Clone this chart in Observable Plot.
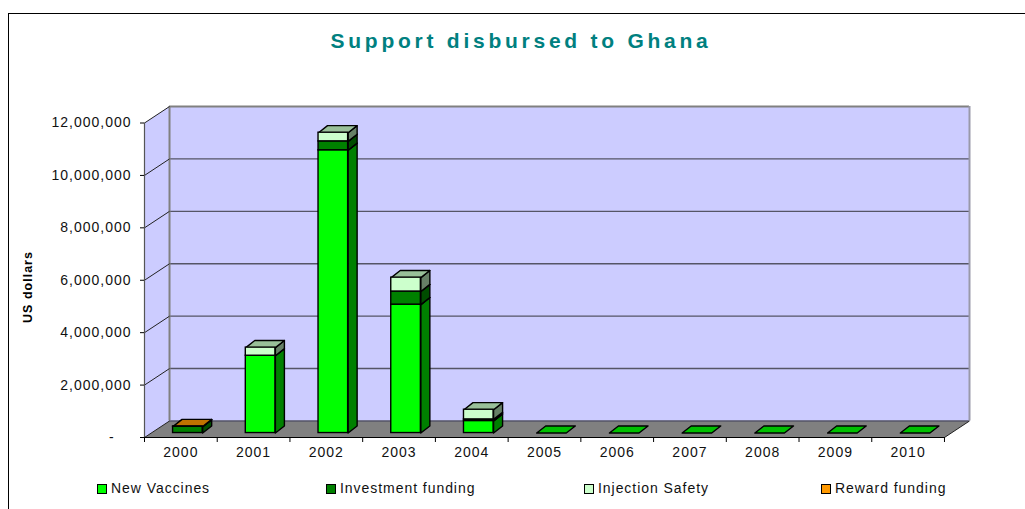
<!DOCTYPE html>
<html><head><meta charset="utf-8">
<script src="https://cdn.jsdelivr.net/npm/d3@7"></script>
<script src="https://cdn.jsdelivr.net/npm/@observablehq/plot@0.6"></script>
<style>
html,body{margin:0;padding:0;background:#fff;width:1025px;height:509px;overflow:hidden;font-family:"Liberation Sans",Arial,sans-serif}
#frame{position:absolute;left:8px;top:13px;width:1100px;height:520px;border:1px solid #000}
#title{position:absolute;left:0;top:29px;width:1042px;text-align:center;font-size:21px;line-height:24px;font-weight:bold;letter-spacing:3.75px;color:#008080;white-space:nowrap}
#chart{position:absolute;left:0;top:0}
#chart svg text{letter-spacing:1px}
.lg{position:absolute;top:480px;font-size:14px;letter-spacing:0.95px;color:#111;white-space:nowrap}
.lg i{display:inline-block;width:8px;height:8px;border:1px solid #000;margin-right:4px;position:relative;top:1px}
</style></head><body>
<div id="frame"></div>
<div id="chart"></div>
<div id="title">Support disbursed to Ghana</div>
<div id="legend"></div>
<script>
const years = [2000,2001,2002,2003,2004,2005,2006,2007,2008,2009,2010];
const newVaccines = [0,2950000,10790000,4900000,460000,0,0,0,0,0,0];
const investment  = [240000,0,340000,500000,60000,0,0,0,0,0,0];
const injection   = [0,310000,330000,530000,370000,0,0,0,0,0,0];
const reward      = [10000,0,0,0,0,0,0,0,0,0,0];
const yTicks = [0,2000000,4000000,6000000,8000000,10000000,12000000];
const seriesNames = ["New Vaccines","Investment funding","Injection Safety","Reward funding"];
const seriesValues = [newVaccines,investment,injection,reward];
const fronts = ["#00ff00","#008000","#ccffcc","#ff9900"];
const sides  = ["#008000","#004d00","#668066","#804d00"];
const tops   = ["#00c000","#006000","#99c099","#c07300"];
const legendX = [97,326,584,821];

// oblique depth of the 3-D box, in data units
const DX = 0.344, DY = 630000;
const barStart = 0.30, barWidth = 0.407, depthA = 0.27, depthB = 0.63, depthBY = 0.70;
const P = (i, v, d, dy = d) => ({x: i + d * DX, y: v + dy * DY});

const polys = [];
const rects = [];
let pid = 0;
function poly(points, fill) { const id = pid++; [...points, points[0]].forEach(p => polys.push({...p, id, fill})); }
years.forEach((yr, k) => {
  const a = k + barStart, b = a + barWidth;
  let base = 0;
  seriesValues.forEach((vals, s) => {
    const h = vals[k];
    const allZero = seriesValues.every(v => v[k] === 0);
    if (h === 0 && !(allZero && s === 0)) return;
    const t = base + h;
    if (h > 0) rects.push({x1: a + depthA*DX, x2: b + depthA*DX, y1: base + depthA*DY, y2: t + depthA*DY, fill: fronts[s]});
    if (h > 0) poly([P(b,base,depthA),P(b,base,depthB,depthBY),P(b,t,depthB,depthBY),P(b,t,depthA)], sides[s]);
    poly([P(a,t,depthA),P(b,t,depthA),P(b,t,depthB,depthBY),P(a,t,depthB,depthBY)], tops[s]);
    base = t;
  });
});
const nCat = years.length;
const wallBack = [P(0,0,1),P(nCat,0,1),P(nCat,12000000,1),P(0,12000000,1)];
const wallSide = [P(0,0,0),P(0,0,1),P(0,12000000,1),P(0,12000000,0)];
const floor = [P(0,0,0),P(nCat,0,0),P(nCat,0,1),P(0,0,1)];
const closed = a => [...a, a[0]];

const plot = Plot.plot({
  width: 1025, height: 509,
  marginLeft: 144, marginRight: 56, marginTop: 106, marginBottom: 72,
  style: {background: "transparent", fontFamily: "Liberation Sans", color: "#111"},
  x: {domain: [0, nCat + DX], label: null},
  y: {domain: [0, 12000000 + DY], label: null},
  marks: [
    Plot.line(closed(wallSide), {x:"x", y:"y", fill:"#ccccff", stroke:"none"}),
    Plot.line(closed(wallBack), {x:"x", y:"y", fill:"#ccccff", stroke:"none"}),
    Plot.line(closed(floor), {x:"x", y:"y", fill:"#808080", stroke:"none"}),
    Plot.ruleY(yTicks.slice(1,-1), {y: d => d + DY, x1: DX, x2: nCat + DX, stroke:"#555566", strokeWidth:1.4, strokeOpacity:1}),
    Plot.ruleY([12000000 + DY], {x1: DX, x2: nCat + DX, stroke:"#808080", strokeWidth:2, strokeOpacity:1}),
    Plot.ruleY([DY], {x1: DX, x2: nCat + DX, stroke:"#555566", strokeWidth:1.4, strokeOpacity:1}),
    Plot.ruleX([DX], {y1: DY, y2: 12000000 + DY, stroke:"#808080", strokeWidth:2, strokeOpacity:1}),
    Plot.ruleX([nCat + DX], {y1: DY, y2: 12000000 + DY, stroke:"#9999aa", strokeWidth:2, strokeOpacity:1}),
    Plot.link(yTicks, {x1: 0, y1: d => d, x2: DX, y2: d => d + DY, stroke:"#222", strokeWidth:1}),
    Plot.link([0], {x1: nCat, y1: 0, x2: nCat + DX, y2: DY, stroke:"#222", strokeWidth:1}),
    Plot.line(polys, {x:"x", y:"y", z:"id", fill:"fill", stroke:"#000", strokeWidth:1.4, strokeLinejoin:"round"}),
    Plot.rect(rects, {x1:"x1", x2:"x2", y1:"y1", y2:"y2", fill:"fill", stroke:"#000", strokeWidth:1.4, inset:0}),
    Plot.ruleX([0], {y1: 0, y2: 12000000, stroke:"#555", strokeWidth:1.2, strokeOpacity:1}),
    Plot.ruleY([0], {x1: 0, x2: nCat, stroke:"#000", strokeWidth:1.2, strokeOpacity:1}),
    Plot.axisY({ticks: yTicks, tickSize: 4, tickPadding: 9, label: null, stroke:"#000", fontSize: 14,
      tickFormat: d => d === 0 ? "-\u00a0\u00a0\u00a0\u200a" : d3.format(",")(d)}),
    Plot.axisX({ticks: d3.range(nCat + 1), tickSize: 5, tickFormat: () => "", label: null, stroke:"#000"}),
    Plot.text(years, {x: (d,i) => i + 0.5, frameAnchor:"bottom", text: d => String(d), dy: 19, fontSize: 14, fill:"#111"}),
    Plot.text(["US dollars"], {frameAnchor:"left", rotate:-90, dx:-117, dy:15, textAnchor:"middle", fontSize:12.5, fontWeight:"bold", fill:"#000"})
  ]
});
document.getElementById("chart").appendChild(plot);
const lg = document.getElementById("legend");
seriesNames.forEach((n,i) => {
  const s = document.createElement("div"); s.className = "lg"; s.style.left = legendX[i] + "px";
  s.innerHTML = `<i style="background:${fronts[i]}"></i>${n}`;
  lg.appendChild(s);
});
</script></body></html>
